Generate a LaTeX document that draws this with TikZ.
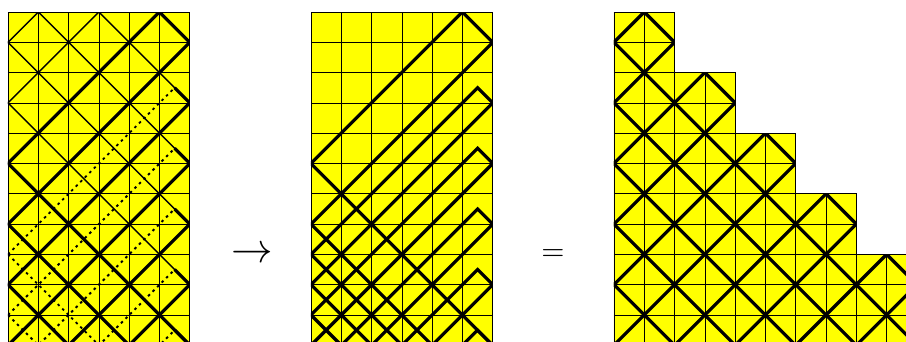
\documentclass[tikz,border=0pt]{standalone}
\definecolor{cellyellow}{RGB}{255,255,0}
\tikzset{
  gridline/.style={line width=0.6pt, draw=black},
  latticeline/.style={line width=1.3pt, draw=black},
  pathline/.style={line width=3pt, draw=black},
  dotline/.style={line width=1.8pt, draw=black, dash pattern=on 2.4pt off 3.6pt},
}
\begin{document}
\begin{tikzpicture}[x=1cm,y=-1cm]
\useasboundingbox (-0.264,-0.396) rectangle (29.64,10.86);
\clip (-0.264,-0.396) rectangle (29.64,10.86);

% ---------- grid 1 ----------
\begin{scope}
  \fill[cellyellow] (0,0) rectangle (6,12);
  \draw[gridline] (0,0) grid (6,12);
  \begin{scope}
    \clip (0,0) rectangle (6,12);
    \foreach \k in {1,3,...,17} \draw[latticeline] (\k,0) -- (\k-12,12);
    \foreach \k in {-11,-9,...,5} \draw[latticeline] (\k,0) -- (\k+12,12);
    \draw[pathline] (0,5) -- (5,0) -- (6,1) -- (0,7);
    \foreach \k in {9,11,...,17} \draw[pathline] (6,\k-6) -- (0,\k);
    \foreach \k in {8,10,...,16} \draw[pathline] (5.5,\k-5.5) -- (6,\k-5);
    \foreach \k in {5,7,9,11} \draw[pathline] (0,\k) -- (12,\k+12);
    \foreach \k in {8,10,...,16} \draw[dotline] (0,\k) -- (5.5,\k-5.5);
    \foreach \k in {8,10,12} \draw[dotline] (0,\k) -- (12,\k+12);
  \end{scope}
\end{scope}

\node[scale=3.9] (arrow) at (8.05,8.02) {$\rightarrow$};

% ---------- grid 2 ----------
\begin{scope}[xshift=10cm]
  \fill[cellyellow] (0,0) rectangle (6,12);
  \draw[gridline] (0,0) grid (6,12);
  \begin{scope}
    \clip (0,0) rectangle (6,12);
    \draw[pathline] (0,5) -- (5,0) -- (6,1) -- (0,7);
    \foreach \k in {9,11,...,17} \draw[pathline] (6,\k-6) -- (0,\k);
    \foreach \k in {8,10,...,16} \draw[pathline] (0,\k) -- (5.5,\k-5.5) -- (6,\k-5);
    \foreach \k in {5,7,8,9,10,11,12} \draw[pathline] (0,\k) -- (12,\k+12);
  \end{scope}
\end{scope}

\node[scale=2.8] (equals) at (17.99,8.02) {$=$};

% ---------- grid 3 ----------
\begin{scope}[xshift=20cm]
  \def\stair{(0,0) -- (2,0) -- (2,2) -- (4,2) -- (4,4) -- (6,4) -- (6,6) -- (8,6) -- (8,8) -- (10,8) -- (10,10) -- (12,10) -- (12,12) -- (0,12) -- cycle}
  \fill[cellyellow] \stair;
  \begin{scope}
    \clip \stair;
    \draw[gridline] (0,0) grid (12,12);
    \foreach \k in {1,3,...,23} \draw[pathline] (\k,0) -- (\k-12,12);
    \foreach \k in {-11,-9,...,11} \draw[pathline] (\k,0) -- (\k+12,12);
  \end{scope}
  \draw[gridline] \stair;
\end{scope}
\end{tikzpicture}
\end{document}
